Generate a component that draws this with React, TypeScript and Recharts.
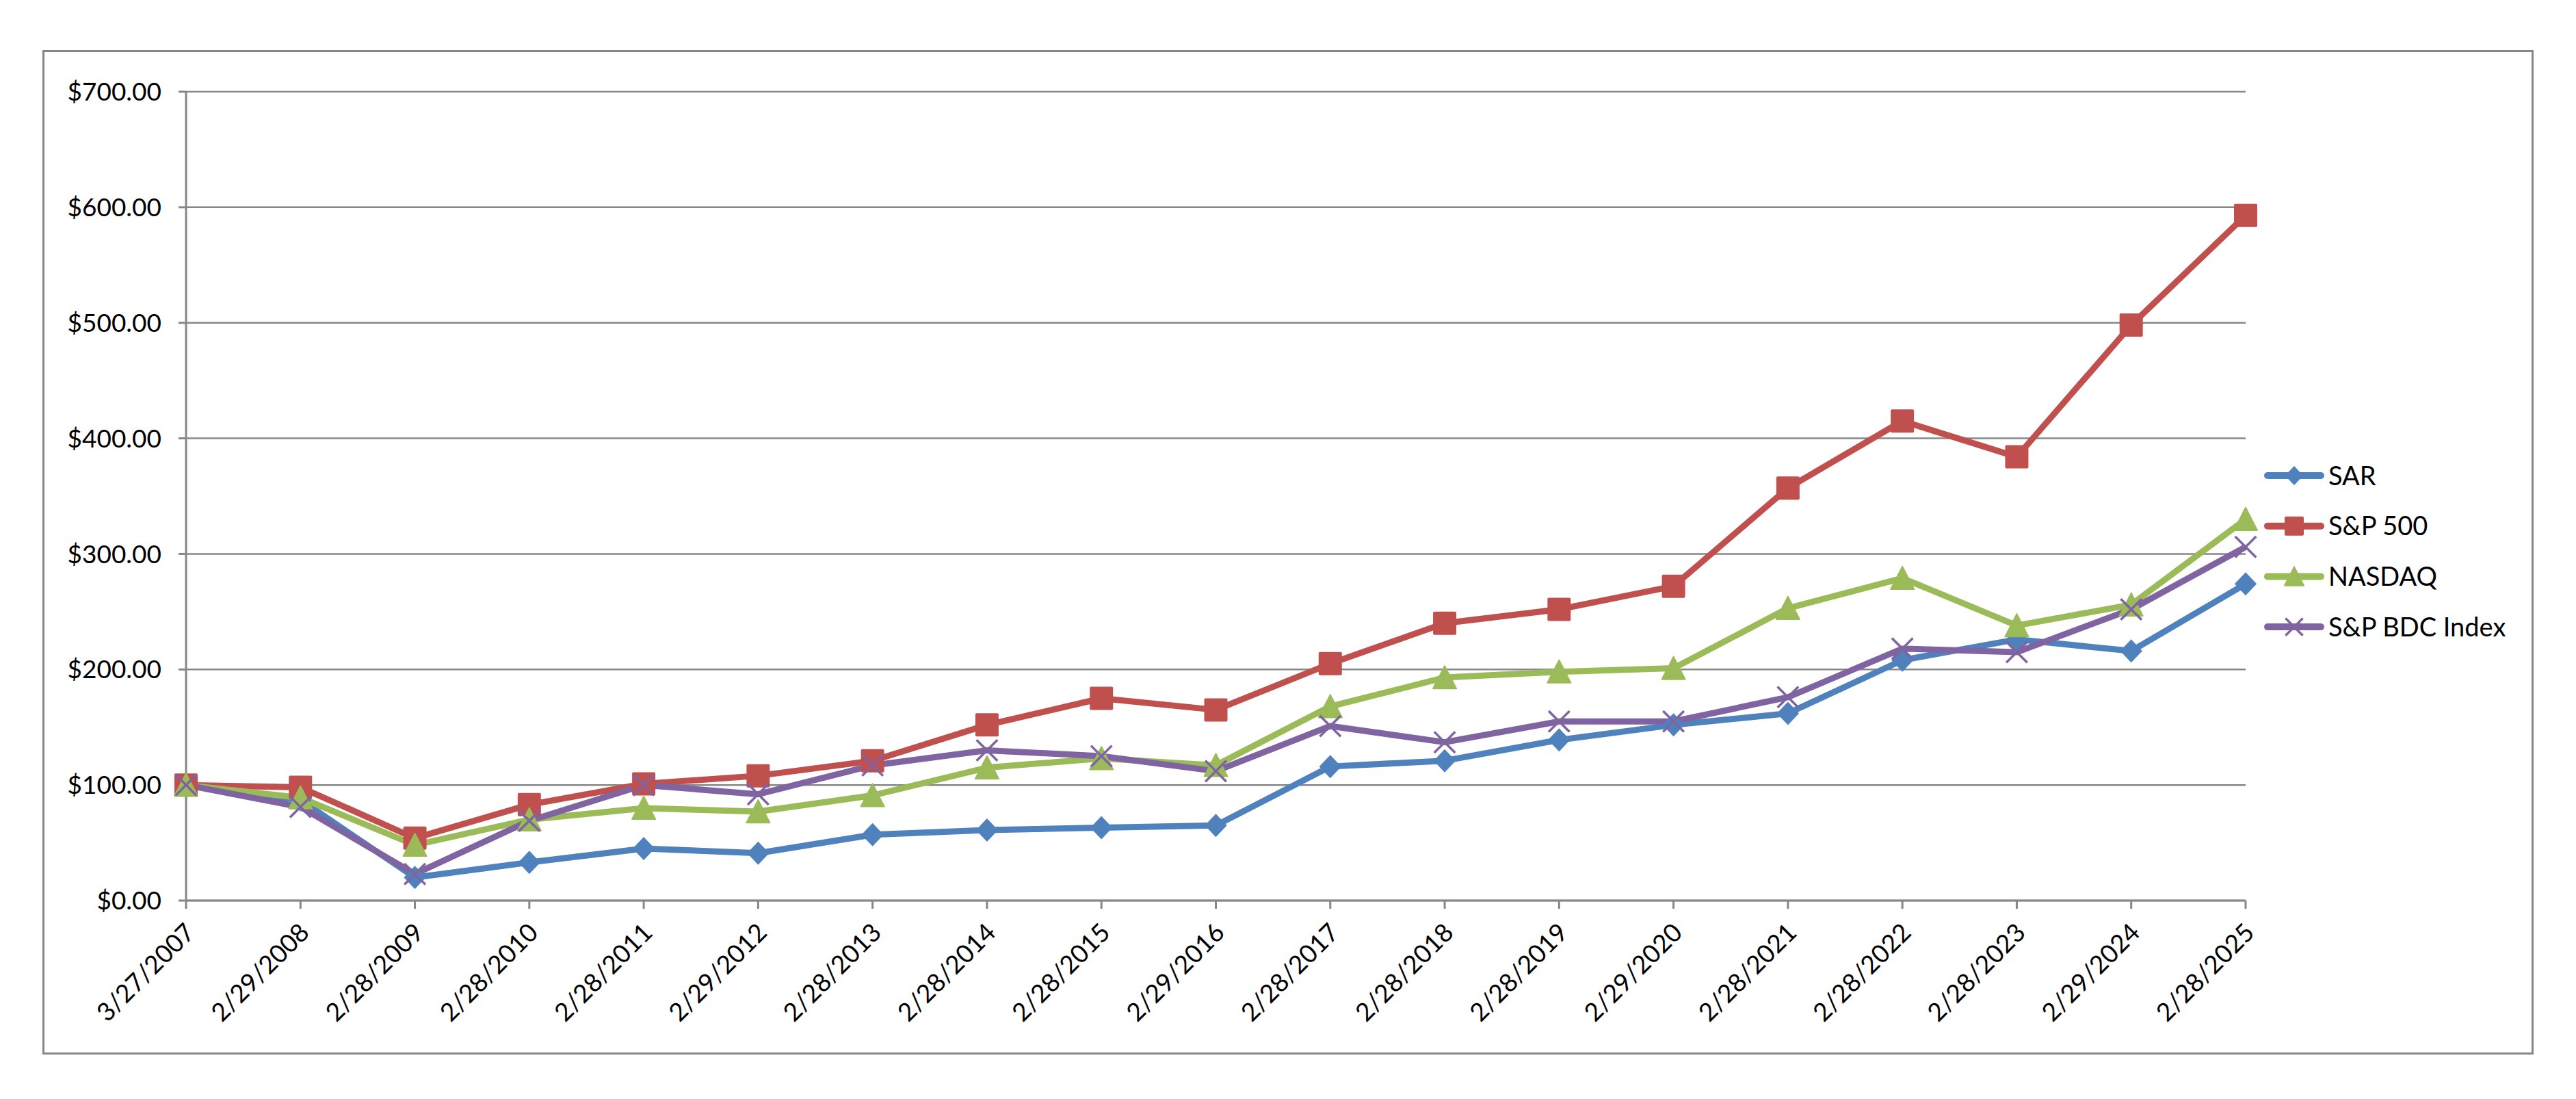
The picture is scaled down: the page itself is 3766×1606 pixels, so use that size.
import { CartesianGrid, Legend, Line, LineChart, XAxis, YAxis } from "recharts";

const dates = [
  "3/27/2007",
  "2/29/2008",
  "2/28/2009",
  "2/28/2010",
  "2/28/2011",
  "2/29/2012",
  "2/28/2013",
  "2/28/2014",
  "2/28/2015",
  "2/29/2016",
  "2/28/2017",
  "2/28/2018",
  "2/28/2019",
  "2/29/2020",
  "2/28/2021",
  "2/28/2022",
  "2/28/2023",
  "2/29/2024",
  "2/28/2025",
];

const sar = [100, 87, 20, 33, 45, 41, 57, 61, 63, 65, 116, 121, 139, 152, 162, 208, 226, 216, 274];
const sp500 = [100, 98, 54, 83, 101, 108, 121, 152, 175, 165, 205, 240, 252, 272, 357, 415, 384, 498, 593];
const nasdaq = [100, 89, 48, 70, 80, 77, 91, 115, 123, 117, 168, 193, 198, 201, 253, 279, 238, 256, 330];
const bdc = [100, 81, 23, 69, 100, 92, 117, 130, 125, 112, 151, 137, 155, 155, 176, 218, 215, 252, 306];

const yTicks = [0, 100, 200, 300, 400, 500, 600, 700];

type Shape = "diamond" | "square" | "triangle" | "cross";

const seriesList: { key: string; name: string; color: string; shape: Shape }[] = [
  { key: "sar", name: "SAR", color: "#4F81BD", shape: "diamond" },
  { key: "sp500", name: "S&P 500", color: "#C0504D", shape: "square" },
  { key: "nasdaq", name: "NASDAQ", color: "#9BBB59", shape: "triangle" },
  { key: "bdc", name: "S&P BDC Index", color: "#8064A2", shape: "cross" },
];

const data = dates.map((date, i) => ({
  date,
  sar: sar[i],
  sp500: sp500[i],
  nasdaq: nasdaq[i],
  bdc: bdc[i],
}));

const GRID = "#878787";
const FONT = "Lato, 'Open Sans', sans-serif";

function Marker({ shape, cx, cy, r, color }: { shape: Shape; cx: number; cy: number; r: number; color: string }) {
  if (shape === "diamond") {
    return (
      <polygon
        points={`${cx},${cy - r} ${cx + r * 0.95},${cy} ${cx},${cy + r} ${cx - r * 0.95},${cy}`}
        fill={color}
      />
    );
  }
  if (shape === "square") {
    return <rect x={cx - r} y={cy - r} width={r * 2} height={r * 2} rx={2} fill={color} />;
  }
  if (shape === "triangle") {
    return (
      <polygon
        points={`${cx},${cy - r} ${cx + r},${cy + r * 0.95} ${cx - r},${cy + r * 0.95}`}
        fill={color}
        strokeLinejoin="round"
        stroke={color}
        strokeWidth={2}
      />
    );
  }
  return (
    <g stroke={color} strokeWidth={3.5}>
      <line x1={cx - r * 0.9} y1={cy - r * 0.9} x2={cx + r * 0.9} y2={cy + r * 0.9} />
      <line x1={cx - r * 0.9} y1={cy + r * 0.9} x2={cx + r * 0.9} y2={cy - r * 0.9} />
    </g>
  );
}

function dotFor(shape: Shape, color: string) {
  return (props: any) => {
    const { cx, cy, index } = props;
    if (cx == null || cy == null) return <g key={`${shape}-${index}`} />;
    return (
      <g key={`${shape}-${index}`}>
        <Marker shape={shape} cx={cx} cy={cy} r={17} color={color} />
      </g>
    );
  };
}

function DateTick({ x, y, payload }: any) {
  return (
    <text
      x={0}
      y={0}
      transform={`translate(${x + 15},${y + 37}) rotate(-45)`}
      textAnchor="end"
      fontSize={37}
      fontFamily={FONT}
      fill="#000"
    >
      {payload.value}
    </text>
  );
}

function ChartLegend() {
  return (
    <svg width={390} height={300} style={{ overflow: "visible" }}>
      {seriesList.map((s, i) => {
        const cy = 45 + i * 73.7;
        return (
          <g key={s.key}>
            <line x1={15} y1={cy} x2={93} y2={cy} stroke={s.color} strokeWidth={10} strokeLinecap="round" />
            <Marker shape={s.shape} cx={54} cy={cy} r={14} color={s.color} />
            <text x={104} y={cy} dy="0.36em" fontSize={38} fontFamily={FONT} fill="#000">
              {s.name}
            </text>
          </g>
        );
      })}
    </svg>
  );
}

export default function App() {
  return (
    <div style={{ position: "absolute", left: 0, top: 0, width: 3766, height: 1606, background: "#fff" }}>
      <div
        style={{
          position: "absolute",
          left: 62,
          top: 73,
          width: 3642,
          height: 1468,
          border: `3px solid ${GRID}`,
          boxSizing: "border-box",
        }}
      />
      <div style={{ position: "absolute", left: 0, top: 0 }}>
        <LineChart
          width={3766}
          height={1606}
          data={data}
          margin={{ top: 134, right: 483, bottom: 170, left: 72 }}
        >
          <CartesianGrid vertical={false} stroke={GRID} strokeWidth={2.5} />
          <XAxis
            dataKey="date"
            interval={0}
            height={120}
            tickSize={12}
            tickMargin={0}
            axisLine={{ stroke: GRID, strokeWidth: 3 }}
            tickLine={{ stroke: GRID, strokeWidth: 3 }}
            tick={<DateTick />}
          />
          <YAxis
            width={200}
            domain={[0, 700]}
            ticks={yTicks}
            interval={0}
            tickSize={11}
            tickMargin={25}
            tickFormatter={(v: number) => `$${v.toFixed(2)}`}
            axisLine={{ stroke: GRID, strokeWidth: 3 }}
            tickLine={{ stroke: GRID, strokeWidth: 3 }}
            tick={{ fill: "#000", fontSize: 37, fontFamily: FONT }}
          />
          <Legend
            layout="vertical"
            align="center"
            verticalAlign="middle"
            wrapperStyle={{ left: 3300, top: 650, width: 390, height: 300 }}
            content={() => <ChartLegend />}
          />
          {seriesList.map((s) => (
            <Line
              key={s.key}
              dataKey={s.key}
              name={s.name}
              stroke={s.color}
              strokeWidth={9}
              strokeLinejoin="round"
              dot={dotFor(s.shape, s.color)}
              activeDot={false}
              isAnimationActive={false}
            />
          ))}
        </LineChart>
      </div>
    </div>
  );
}
